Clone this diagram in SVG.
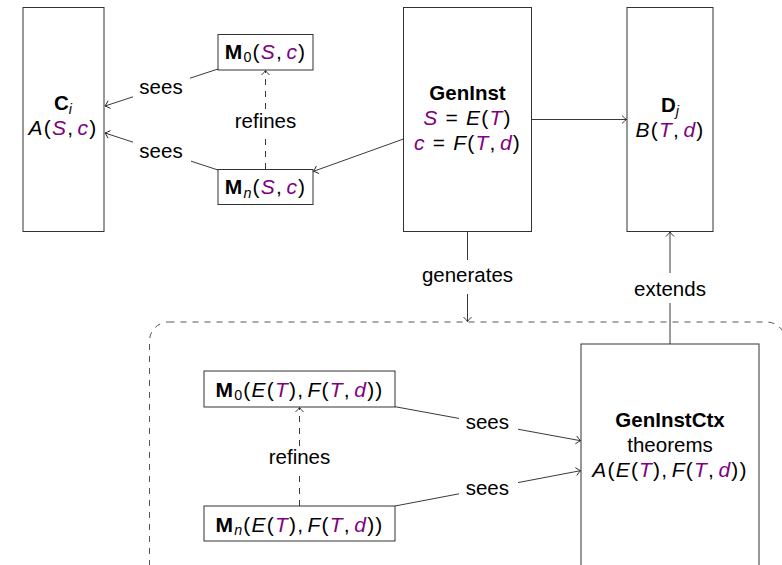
<svg xmlns="http://www.w3.org/2000/svg" width="782" height="565" viewBox="0 0 782 565">
<defs>
<style>
.box{fill:#fff;stroke:#333;stroke-width:1}
.ln{fill:none;stroke:#222;stroke-width:0.9}
.dash{stroke-dasharray:6 6}
.t{font-family:"Liberation Sans",Arial,sans-serif;font-size:20.5px;fill:#000}
.m{font-size:21px;letter-spacing:1.2px}
.i{font-style:italic}
.v{fill:#800080}
.b{font-weight:bold}
.s{font-size:14.3px}
.lbg{fill:#fff}
</style>
<marker id="ah" markerUnits="userSpaceOnUse" markerWidth="12" markerHeight="12" refX="0" refY="0" viewBox="-6 -6 12 12" orient="auto" overflow="visible">
<path d="M-4.5,-4 Q-1.5,-1 0,0 Q-1.5,1 -4.5,4" fill="none" stroke="#222" stroke-width="0.9"/>
</marker>
</defs>
<rect width="782" height="565" fill="#fff"/>

<g id="generated">
<rect x="149.5" y="322" width="636" height="300" rx="19" fill="none" stroke="#444" stroke-width="0.9" class="dash"/>
</g>

<g id="Ci">
<rect class="box" x="23" y="7.5" width="81" height="224"/>
<text class="t" x="63" y="110" text-anchor="middle"><tspan class="b">C</tspan><tspan class="s i" dy="3.5">i</tspan></text>
<text class="t m" x="63" y="135" text-anchor="middle"><tspan class="i">A</tspan>(<tspan class="i v">S</tspan>,<tspan class="i v" dx="3.4">c</tspan>)</text>
</g>

<g id="M0">
<rect class="box" x="218" y="34.5" width="95" height="35.5"/>
<text class="t m" x="265.5" y="58.5" text-anchor="middle"><tspan class="b">M</tspan><tspan class="s" dy="3.5">0</tspan><tspan dy="-3.5">(</tspan><tspan class="i v">S</tspan>,<tspan class="i v" dx="3.4">c</tspan>)</text>
</g>

<g id="Mn">
<rect class="box" x="218" y="169.5" width="95" height="35"/>
<text class="t m" x="265.5" y="194" text-anchor="middle"><tspan class="b">M</tspan><tspan class="s i" dy="3.5">n</tspan><tspan dy="-3.5">(</tspan><tspan class="i v">S</tspan>,<tspan class="i v" dx="3.4">c</tspan>)</text>
</g>

<g id="GenInst">
<rect class="box" x="403.5" y="7.5" width="128" height="224"/>
<text class="t b" x="467.5" y="100" text-anchor="middle">GenInst</text>
<text class="t m" x="467.5" y="125" text-anchor="middle"><tspan class="i v">S</tspan><tspan dx="7">=</tspan><tspan class="i" dx="7">E</tspan>(<tspan class="i v">T</tspan>)</text>
<text class="t m" x="467.5" y="150" text-anchor="middle"><tspan class="i v">c</tspan><tspan dx="7">=</tspan><tspan class="i" dx="7">F</tspan>(<tspan class="i v">T</tspan>,<tspan class="i v" dx="3.4">d</tspan>)</text>
</g>

<g id="Dj">
<rect class="box" x="627" y="7.5" width="86" height="224"/>
<text class="t" x="670" y="112" text-anchor="middle"><tspan class="b">D</tspan><tspan class="s i" dy="3.5">j</tspan></text>
<text class="t m" x="670" y="137" text-anchor="middle"><tspan class="i">B</tspan>(<tspan class="i v">T</tspan>,<tspan class="i v" dx="3.4">d</tspan>)</text>
</g>

<g id="M0E">
<rect class="box" x="204" y="371" width="191" height="36"/>
<text class="t m" x="299.5" y="396.5" text-anchor="middle"><tspan class="b">M</tspan><tspan class="s" dy="3.5">0</tspan><tspan dy="-3.5">(</tspan><tspan class="i">E</tspan>(<tspan class="i v">T</tspan>),<tspan class="i" dx="3.4">F</tspan>(<tspan class="i v">T</tspan>,<tspan class="i v" dx="3.4">d</tspan>))</text>
</g>

<g id="MnE">
<rect class="box" x="204" y="506" width="191" height="35"/>
<text class="t m" x="299.5" y="531.5" text-anchor="middle"><tspan class="b">M</tspan><tspan class="s i" dy="3.5">n</tspan><tspan dy="-3.5">(</tspan><tspan class="i">E</tspan>(<tspan class="i v">T</tspan>),<tspan class="i" dx="3.4">F</tspan>(<tspan class="i v">T</tspan>,<tspan class="i v" dx="3.4">d</tspan>))</text>
</g>

<g id="GenInstCtx">
<rect class="box" x="581" y="344" width="178" height="260"/>
<text class="t b" x="670" y="426.5" text-anchor="middle">GenInstCtx</text>
<text class="t" x="670" y="451.5" text-anchor="middle">theorems</text>
<text class="t m" x="670" y="476.5" text-anchor="middle"><tspan class="i">A</tspan>(<tspan class="i">E</tspan>(<tspan class="i v">T</tspan>),<tspan class="i" dx="3.4">F</tspan>(<tspan class="i v">T</tspan>,<tspan class="i v" dx="3.4">d</tspan>))</text>
</g>

<g id="connectors">
<line class="ln" x1="218" y1="69" x2="105" y2="106" marker-end="url(#ah)"/>
<rect class="lbg" x="133" y="76" width="57" height="23"/>
<text class="t" x="161" y="94" text-anchor="middle">sees</text>

<line class="ln" x1="218" y1="170" x2="105" y2="133" marker-end="url(#ah)"/>
<rect class="lbg" x="133" y="140" width="58" height="23"/>
<text class="t" x="161" y="157.5" text-anchor="middle">sees</text>

<line class="ln dash" x1="265.5" y1="169" x2="265.5" y2="70.5" marker-end="url(#ah)"/>
<rect class="lbg" x="233" y="111" width="65" height="23"/>
<text class="t" x="265.5" y="127.5" text-anchor="middle">refines</text>

<line class="ln" x1="403.5" y1="139" x2="313.5" y2="171.3" marker-end="url(#ah)"/>

<line class="ln" x1="531.5" y1="119.5" x2="626.5" y2="119.5" marker-end="url(#ah)"/>

<line class="ln" x1="467.5" y1="232" x2="467.5" y2="321.5" marker-end="url(#ah)"/>
<rect class="lbg" x="428" y="260" width="79" height="34"/>
<text class="t" x="467.5" y="281.5" text-anchor="middle">generates</text>

<line class="ln" x1="670" y1="344" x2="670" y2="232" marker-end="url(#ah)"/>
<rect class="lbg" x="636" y="273" width="68" height="30"/>
<text class="t" x="670" y="295.7" text-anchor="middle">extends</text>

<line class="ln dash" x1="299.5" y1="506" x2="299.5" y2="407.5" marker-end="url(#ah)"/>
<rect class="lbg" x="267" y="446" width="65" height="25"/>
<text class="t" x="299.5" y="464" text-anchor="middle">refines</text>

<line class="ln" x1="395" y1="406.7" x2="580.5" y2="440.7" marker-end="url(#ah)"/>
<rect class="lbg" x="459" y="411" width="59" height="25"/>
<text class="t" x="487.3" y="429" text-anchor="middle">sees</text>

<line class="ln" x1="395" y1="506" x2="580.5" y2="470.7" marker-end="url(#ah)"/>
<rect class="lbg" x="459" y="477" width="59" height="24"/>
<text class="t" x="487.3" y="495" text-anchor="middle">sees</text>
</g>
</svg>
